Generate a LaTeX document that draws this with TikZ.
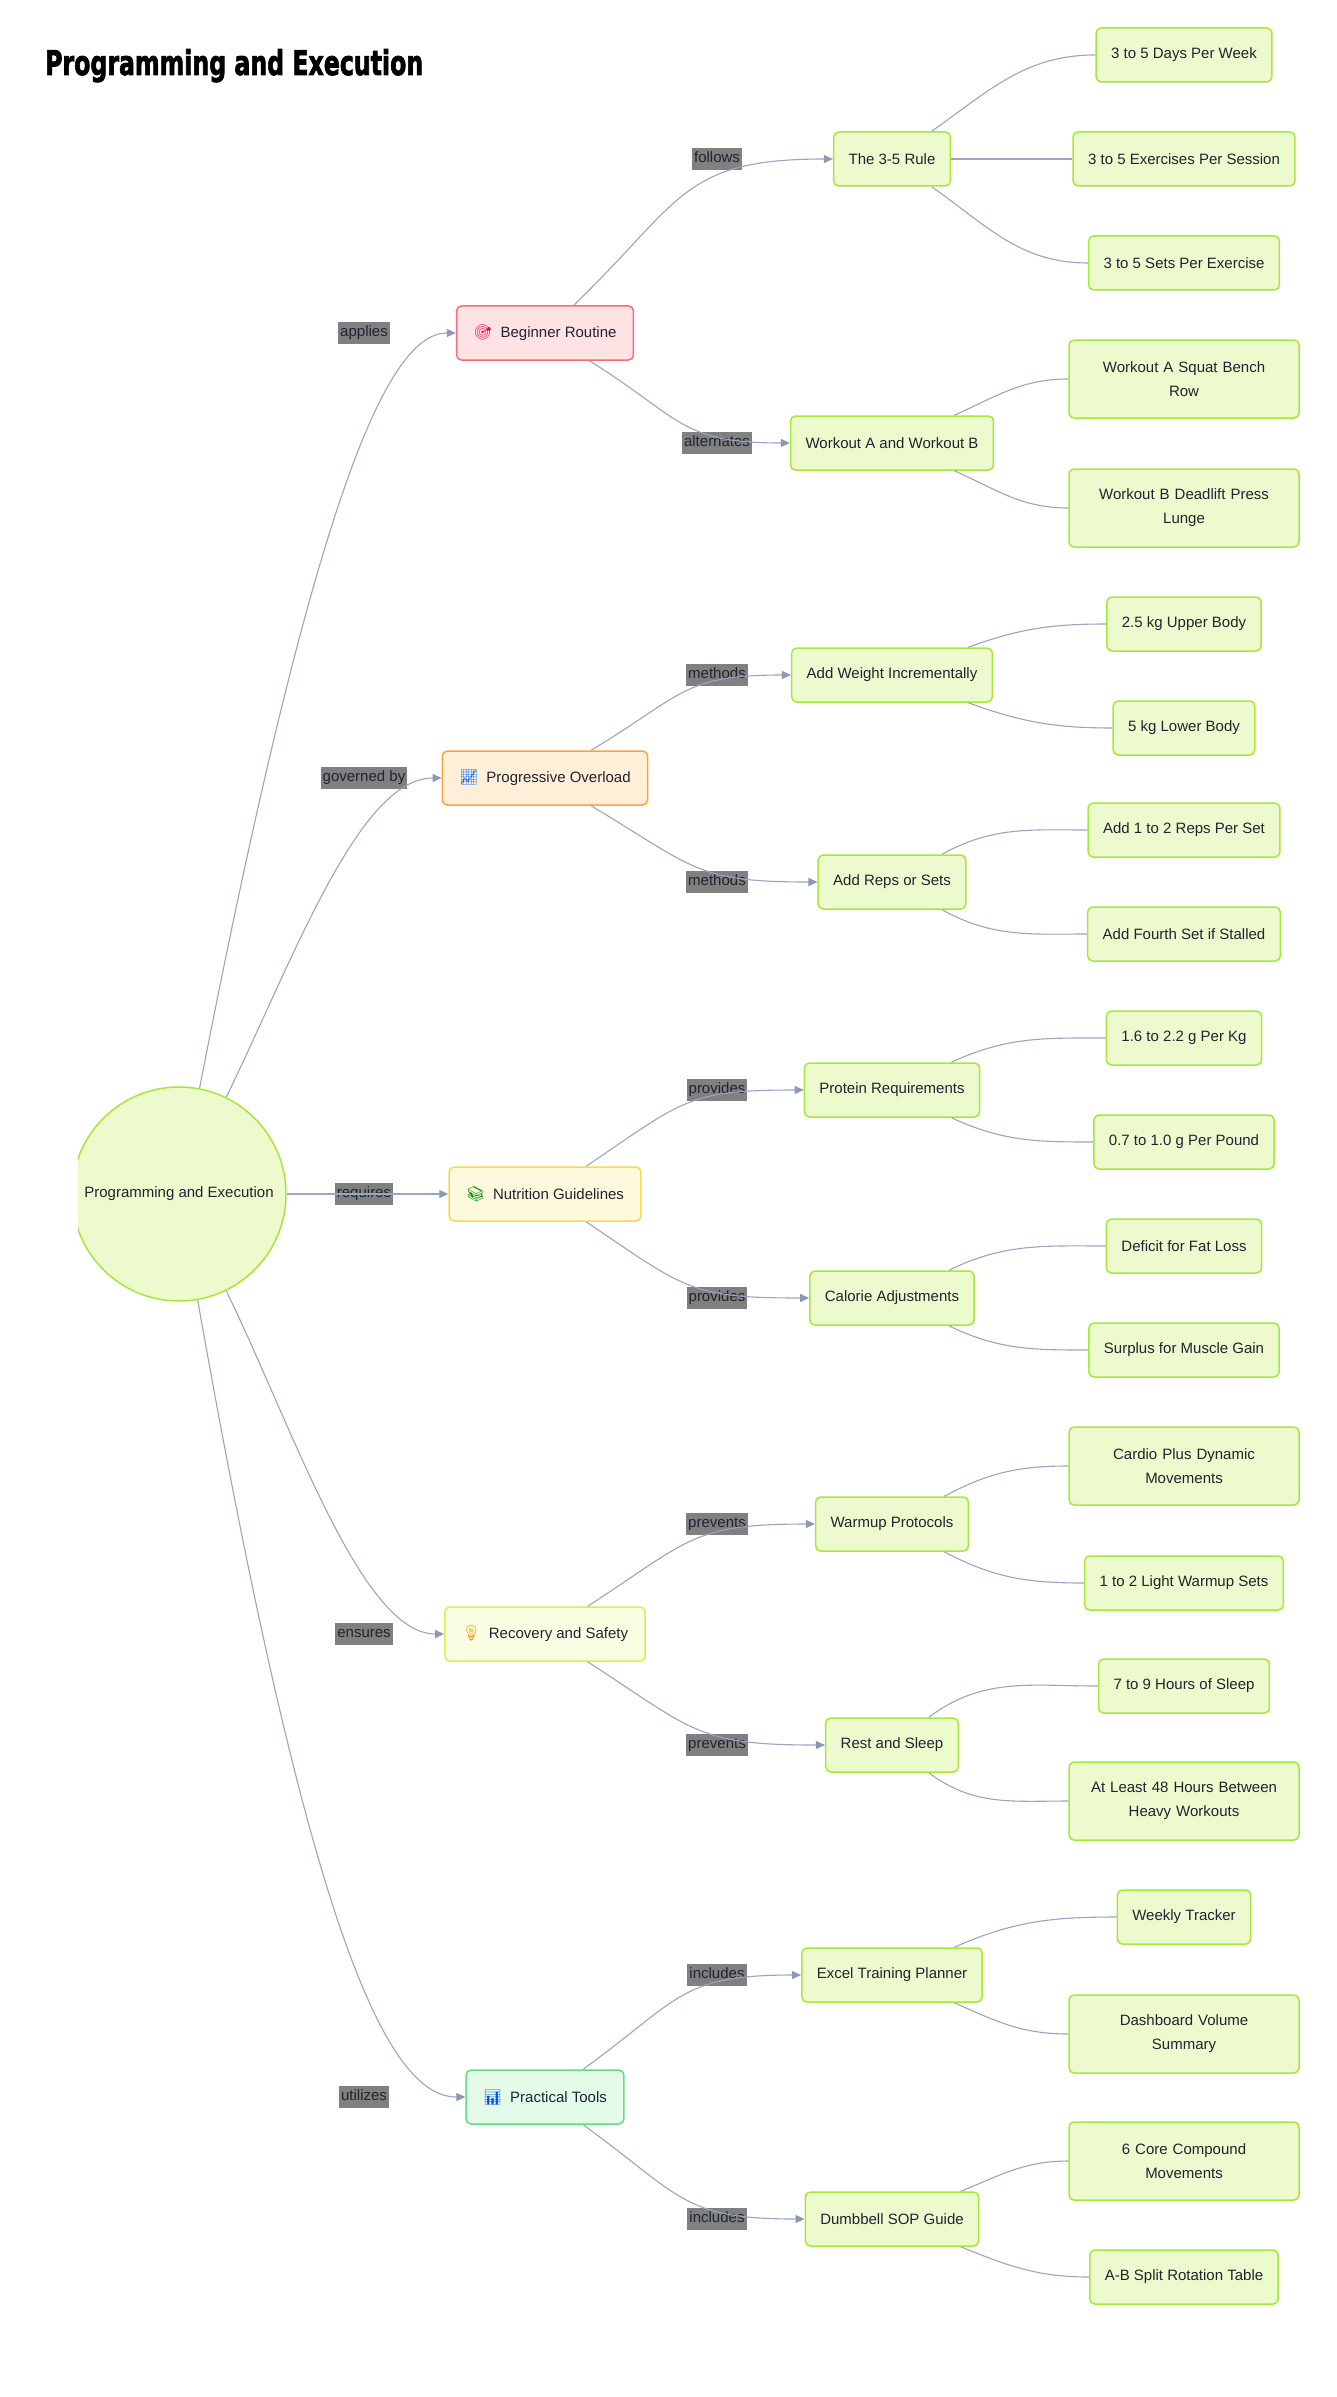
\documentclass[tikz,border=0pt]{standalone}
\usepackage{fontspec}
\usepackage{graphicx}
\setmainfont{Liberation Sans}
\newfontfamily\emojifont{Noto Emoji}
\newfontfamily\titlefont{DejaVu Sans}[BoldFeatures={FakeBold=2.5}]
\usetikzlibrary{arrows.meta}

\definecolor{lienc}{HTML}{9AA5BF}
\definecolor{pointe}{HTML}{8C99B3}
\definecolor{texte}{HTML}{1F2430}
\definecolor{etiqfond}{HTML}{808080}
\definecolor{vertfond}{HTML}{ECFACD}
\definecolor{vertbord}{HTML}{A6E83A}
\definecolor{rosefond}{HTML}{FFE2E4}
\definecolor{rosebord}{HTML}{F76D74}
\definecolor{orfond}{HTML}{FFEFD9}
\definecolor{orbord}{HTML}{FCA43A}
\definecolor{jaunefond}{HTML}{FEF8DC}
\definecolor{jaunebord}{HTML}{FCD850}
\definecolor{citfond}{HTML}{F9FEE2}
\definecolor{citbord}{HTML}{D6F24E}
\definecolor{menthefond}{HTML}{E4FBE9}
\definecolor{menthebord}{HTML}{62DC86}

\tikzset{
  boite/.style={rectangle, rounded corners=5pt, line width=1.5pt, text=texte,
    font=\fontsize{15pt}{24pt}\selectfont, minimum height=54pt, inner xsep=15pt},
  branche/.style={boite, inner xsep=17pt},
  feuille/.style={boite, fill=vertfond, draw=vertbord},
  feuille2/.style={feuille, text width=200pt, align=center, minimum height=78pt},
  racine/.style={circle, minimum size=214pt, inner sep=0pt, fill=vertfond, draw=vertbord,
    line width=1.5pt, text=texte, font=\fontsize{15pt}{18pt}\selectfont},
  etiq/.style={fill=etiqfond, text=texte, font=\fontsize{15pt}{18pt}\selectfont,
    inner xsep=2pt, inner ysep=4pt, text height=11pt, text depth=3.5pt},
  lien/.style={draw=lienc, line width=1.1pt},
  fleche/.style={-{Triangle[length=9pt,width=8pt,color=pointe]}}
}

\newcommand{\emo}[2]{{\emojifont\color{#1}#2}\hspace{8pt}}

\begin{document}
\begin{tikzpicture}[x=1pt,y=1pt]
\def\colA{545}
\def\colB{892}
\def\colC{1184}

\fill[white] (0,0) rectangle (1336,-2397);
\useasboundingbox (0,0) rectangle (1336,-2397);

% titre
\node[anchor=base west, inner sep=0pt] (titre) at (45,-75)
  {\resizebox{378pt}{\height}{\fontsize{34pt}{36pt}\titlefont\bfseries Programming and Execution}};

% noeud central, coupe a gauche
\begin{scope}
\clip (78,-1000) rectangle (400,-1400);
\node[racine] (root) at (179,-1194) {Programming and Execution};
\end{scope}

% premier niveau
\node[branche, fill=rosefond, draw=rosebord] (b1) at (\colA,-333) {\emo{red!70!magenta}{🎯}Beginner Routine};
\node[branche, fill=orfond, draw=orbord] (p1) at (\colA,-778) {\emo{blue!60!cyan}{📈}Progressive Overload};
\node[branche, fill=jaunefond, draw=jaunebord] (n1) at (\colA,-1194) {\emo{green!55!black}{📚}Nutrition Guidelines};
\node[branche, fill=citfond, draw=citbord] (rec) at (\colA,-1634) {\emo{orange!90!yellow}{💡}Recovery and Safety};
\node[branche, fill=menthefond, draw=menthebord] (pt) at (\colA,-2097) {\emo{blue!70!cyan}{📊}Practical Tools};

% deuxieme niveau
\foreach \nom/\y/\txt in {r1/159/The 3-5 Rule, r2/443/Workout A and Workout B,
  w1/675/Add Weight Incrementally, w2/882/Add Reps or Sets,
  q1/1090/Protein Requirements, q2/1298/Calorie Adjustments,
  s1/1524/Warmup Protocols, s2/1745/Rest and Sleep,
  t1/1975/Excel Training Planner, t2/2219/Dumbbell SOP Guide} {
  \node[feuille] (\nom) at (\colB,-\y) {\txt};
}

% feuilles sur une ligne
\foreach \nom/\y/\txt in {f1/55/3 to 5 Days Per Week, f2/159/3 to 5 Exercises Per Session,
  f3/263/3 to 5 Sets Per Exercise, f6/624/2.5 kg Upper Body, f7/728/5 kg Lower Body,
  f8/830/Add 1 to 2 Reps Per Set, f9/934/Add Fourth Set if Stalled,
  f10/1038/1.6 to 2.2 g Per Kg, f11/1142/0.7 to 1.0 g Per Pound,
  f12/1246/Deficit for Fat Loss, f13/1350/Surplus for Muscle Gain,
  f15/1583/1 to 2 Light Warmup Sets, f16/1686/7 to 9 Hours of Sleep,
  f18/1917/Weekly Tracker, f21/2277/A-B Split Rotation Table} {
  \node[feuille] (\nom) at (\colC,-\y) {\txt};
}

% feuilles sur deux lignes
\foreach \nom/\y/\txt in {f4/379/{Workout A Squat Bench\\Row}, f5/508/{Workout B Deadlift Press\\Lunge},
  f14/1466/{Cardio Plus Dynamic\\Movements}, f17/1801/{At Least 48 Hours Between\\Heavy Workouts},
  f19/2034/{Dashboard Volume\\Summary}, f20/2161/{6 Core Compound\\Movements}} {
  \node[feuille2] (\nom) at (\colC,-\y) {\txt};
}

% etiquettes des liens
\node[etiq] (l1) at (364,0 |- b1) {applies};
\node[etiq] (l2) at (364,0 |- p1) {governed by};
\node[etiq] (l3) at (364,0 |- n1) {requires};
\node[etiq] (l4) at (364,0 |- rec) {ensures};
\node[etiq] (l5) at (364,0 |- pt) {utilizes};
\foreach \b/\txt [count=\i] in {r1/follows, r2/alternates, w1/methods, w2/methods,
  q1/provides, q2/provides, s1/prevents, s2/prevents, t1/includes, t2/includes} {
  \node[etiq] (m\i) at (717,0 |- \b) {\txt};
}

% liens depuis le centre
\draw[lien, fleche] (root) to[out=79, in=180, out distance=618pt, in distance=66pt] (b1);
\draw[lien, fleche] (root) to[out=64, in=180, out distance=152pt, in distance=83pt] (p1);
\draw[lien, fleche] (root) -- (n1);
\draw[lien, fleche] (root) to[out=-64, in=180, out distance=152pt, in distance=83pt] (rec);
\draw[lien, fleche] (root) to[out=-80, in=180, out distance=649pt, in distance=77pt] (pt);

% liens vers le deuxieme niveau
\foreach \a/\b/\ang in {b1/r1/44, b1/r2/-32, p1/w1/31, p1/w2/-31, n1/q1/34, n1/q2/-34,
  rec/s1/33, rec/s2/-33, pt/t1/36, pt/t2/-36} {
  \draw[lien, fleche] (\a) to[out=\ang, in=180, looseness=1.3] (\b);
}

% liens vers les feuilles
\draw[lien] (r1) -- (f2);
\foreach \a/\b/\ang in {r1/f1/35, r1/f3/-35, r2/f4/24, r2/f5/-24, w1/f6/20, w1/f7/-20,
  w2/f8/29, w2/f9/-29, q1/f10/25, q1/f11/-25, q2/f12/26, q2/f13/-26,
  s1/f14/28, s1/f15/-28, s2/f16/37, s2/f17/-37, t1/f18/24, t1/f19/-24,
  t2/f20/22, t2/f21/-22} {
  \draw[lien] (\a) to[out=\ang, in=180] (\b);
}
\end{tikzpicture}
\end{document}
